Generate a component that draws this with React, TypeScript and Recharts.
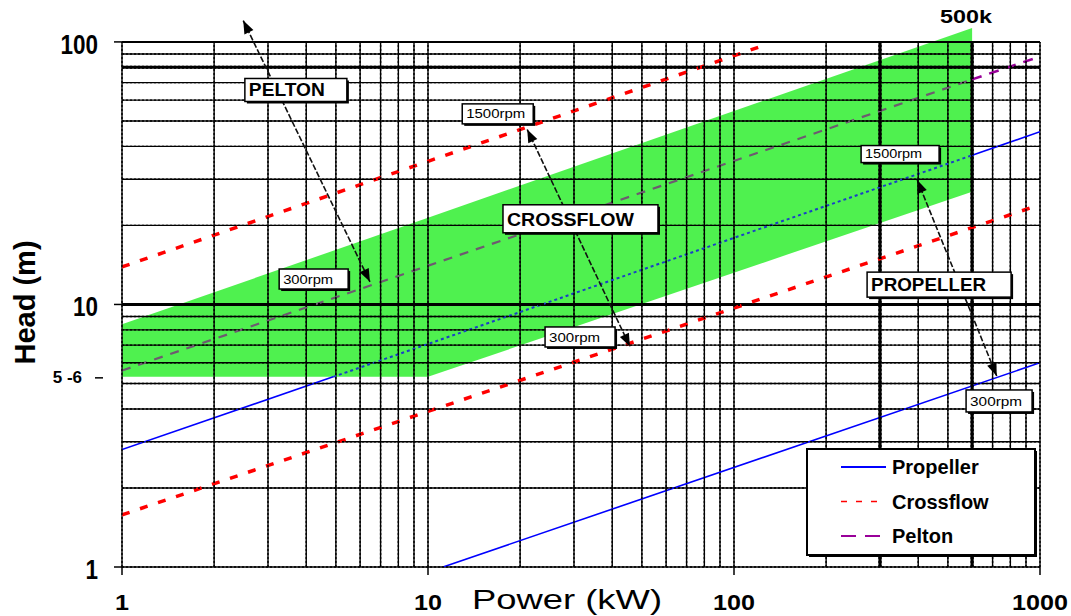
import React from "react";
import {
  ComposedChart,
  XAxis,
  YAxis,
  Line,
  Area,
  ReferenceLine,
  ReferenceDot,
  Legend,
} from "recharts";

const FONT = "'Liberation Sans', Arial, Helvetica, sans-serif";

// axis ticks and log grid
const powerTicks = [1, 10, 100, 1000];
const powerGrid = [
  1, 2, 3, 4, 5, 6, 7, 8, 9, 10, 20, 30, 40, 50, 60, 70, 80, 90, 100, 200, 300,
  400, 500, 600, 700, 800, 900, 1000,
];
const headTicks = [1, 5.3, 10, 100];
const headGrid = [
  1, 2, 3, 4, 5, 6, 7, 8, 9, 10, 20, 30, 40, 50, 60, 70, 80, 90, 100,
];
const thickPower = [300, 600];
const thickHead = [10, 80];

// turbine lines: power (kW) -> head (m)
const propeller300 = [
  { p: 11.2, h: 1 },
  { p: 1000, h: 6 },
];
const propeller1500Low = [
  { p: 1, h: 2.8 },
  { p: 4.9, h: 5.3 },
];
const propeller1500Mid = [
  { p: 4.9, h: 5.3 },
  { p: 600, h: 37 },
];
const propeller1500High = [
  { p: 600, h: 37 },
  { p: 1000, h: 45.5 },
];
const crossflow300 = [
  { p: 1, h: 1.58 },
  { p: 1000, h: 24 },
];
const crossflow1500 = [
  { p: 1, h: 13.9 },
  { p: 122, h: 96 },
];
const peltonInside = [
  { p: 1, h: 5.6 },
  { p: 600, h: 72 },
];
const peltonOutside = [
  { p: 600, h: 72 },
  { p: 1000, h: 88 },
];

// green band (head range for each power)
const bandPower = [1, 10, 600];
const bandLow = [5.3, 5.3, 26.9];
const bandHigh = [8.4, 21.4, 113];
const band = bandPower.map((p, i) => ({ p, h: [bandLow[i], bandHigh[i]] }));

// annotation boxes and arrows
const notes = [
  { text: "PELTON", p: 3.7, h: 65.6, w: 102, ht: 23, fs: 18, bold: true, len: 76 },
  { text: "1500rpm", p: 16.9, h: 53.2, w: 71, ht: 20, fs: 12, bold: false, len: 59 },
  { text: "CROSSFLOW", p: 31.5, h: 21.2, w: 155, ht: 28, fs: 19, bold: true, len: 127 },
  { text: "300rpm", p: 4.23, h: 12.5, w: 69, ht: 20, fs: 13, bold: false, len: 50 },
  { text: "300rpm", p: 31.4, h: 7.52, w: 70, ht: 20, fs: 13, bold: false, len: 51 },
  { text: "1500rpm", p: 349, h: 37.4, w: 78, ht: 17, fs: 12, bold: false, len: 57 },
  { text: "PROPELLER", p: 468, h: 11.9, w: 144, ht: 25, fs: 18, bold: true, len: 115 },
  { text: "300rpm", p: 735, h: 4.29, w: 66, ht: 22, fs: 13, bold: false, len: 52 },
];
const arrows = [
  { p1: 2.49, h1: 120.6, p2: 6.46, h2: 12.2 },
  { p1: 21.1, h1: 46.4, p2: 45.7, h2: 6.91 },
  { p1: 397, h1: 29.8, p2: 722, h2: 5.34 },
];

const legendItems = [
  { name: "Propeller", color: "#0000ff", dash: undefined, width: 2 },
  { name: "Crossflow", color: "#ff0000", dash: "6 9", width: 1.5 },
  { name: "Pelton", color: "#990099", dash: "15 9", width: 2 },
];

const headWidth = (v: number) => (thickHead.includes(v) ? 3 : v === 100 ? 2 : 1.4);
const powerWidth = (v: number) => (thickPower.includes(v) ? 3.2 : 1.4);

function arrowHead(x: number, y: number, fx: number, fy: number) {
  const a = Math.atan2(y - fy, x - fx);
  const len = 13;
  const half = 5;
  const bx = x - len * Math.cos(a);
  const by = y - len * Math.sin(a);
  const px = -Math.sin(a) * half;
  const py = Math.cos(a) * half;
  return `${x},${y} ${bx + px},${by + py} ${bx - px},${by - py}`;
}

const ArrowShape = (props: any) => {
  const { x1, y1, x2, y2 } = props;
  return (
    <g>
      <line x1={x1} y1={y1} x2={x2} y2={y2} stroke="#111" strokeWidth={1.6} strokeDasharray="6 2" />
      <polygon points={arrowHead(x1, y1, x2, y2)} fill="#000" />
      <polygon points={arrowHead(x2, y2, x1, y1)} fill="#000" />
    </g>
  );
};

// dotted copy of a grid line, drawn above the band
const dottedShape = (width: number) => (props: any) => (
  <line
    x1={props.x1}
    y1={props.y1}
    x2={props.x2}
    y2={props.y2}
    stroke="#000"
    strokeWidth={width}
    strokeDasharray="2 2"
  />
);

const NoteBox = ({ cx, cy, note }: any) => {
  const left = cx - note.w / 2;
  const top = cy - note.ht / 2;
  return (
    <g>
      <rect x={left + 2} y={top + 2} width={note.w} height={note.ht} fill="#000" />
      <rect x={left} y={top} width={note.w} height={note.ht} fill="#fff" stroke="#000" strokeWidth={1.5} />
      <text
        x={left + 4}
        y={cy}
        dy="0.36em"
        fontFamily={FONT}
        fontSize={note.fs}
        fontWeight={note.bold ? "bold" : "normal"}
        textLength={note.len}
        lengthAdjust="spacingAndGlyphs"
        fill="#000"
      >
        {note.text}
      </text>
    </g>
  );
};

const PowerTick = ({ x, y, payload }: any) => {
  const s = String(payload.value);
  return (
    <text
      x={x}
      y={y + 33}
      textAnchor="middle"
      fontFamily={FONT}
      fontSize={22}
      fontWeight="bold"
      textLength={s.length * 14}
      lengthAdjust="spacingAndGlyphs"
      fill="#000"
    >
      {s}
    </text>
  );
};

const HeadTick = ({ x, y, payload }: any) => {
  const v = payload.value;
  if (v === 5.3) {
    return (
      <g>
        <text x={x - 40} y={y + 6} textAnchor="end" fontFamily={FONT} fontSize={17} fontWeight="bold" fill="#000">
          5 -6
        </text>
        <line x1={x - 27} x2={x - 19} y1={y + 1} y2={y + 1} stroke="#000" strokeWidth={1.5} />
      </g>
    );
  }
  const s = String(v);
  return (
    <g>
      <line x1={x - 8} x2={x} y1={y} y2={y} stroke="#000" strokeWidth={1.5} />
      <text
        x={x - 24}
        y={y + 12}
        textAnchor="end"
        fontFamily={FONT}
        fontSize={28}
        fontWeight="bold"
        textLength={s.length * 12.5}
        lengthAdjust="spacingAndGlyphs"
        fill="#000"
      >
        {s}
      </text>
    </g>
  );
};

const renderLegend = () => (
  <svg width={234} height={112} style={{ display: "block" }}>
    <rect x={3} y={3} width={228} height={106} fill="#000" />
    <rect x={1} y={1} width={228} height={106} fill="#fff" stroke="#000" strokeWidth={2} />
    {legendItems.map((it, i) => {
      const cy = 19 + i * 34.5;
      return (
        <g key={it.name}>
          <line x1={35} x2={80} y1={cy} y2={cy} stroke={it.color} strokeWidth={it.width} strokeDasharray={it.dash} />
          <text x={86} y={cy + 7} fontFamily={FONT} fontSize={20} fontWeight="bold" fill="#000">
            {it.name}
          </text>
        </g>
      );
    })}
  </svg>
);

export default function App() {
  return (
    <div style={{ position: "absolute", left: 0, top: 0, background: "#fff" }}>
      <ComposedChart width={1071} height={616} margin={{ top: 12, right: 31, bottom: 9, left: 42 }}>
        <XAxis
          type="number"
          dataKey="p"
          scale="log"
          domain={[1, 1000]}
          allowDataOverflow
          ticks={powerTicks}
          axisLine={false}
          tickLine={{ stroke: "#000", strokeWidth: 1.5 }}
          tickSize={8}
          tickMargin={2}
          height={40}
          tick={<PowerTick />}
          label={{
            content: ({ viewBox }: any) => (
              <text
                x={viewBox.x + viewBox.width / 2 - 14}
                y={viewBox.y + 42}
                textAnchor="middle"
                fontFamily={FONT}
                fontSize={27}
                textLength={190}
                lengthAdjust="spacingAndGlyphs"
                fill="#000"
              >
                Power (kW)
              </text>
            ),
          }}
        />
        <YAxis
          type="number"
          dataKey="h"
          scale="log"
          domain={[1, 130]}
          allowDataOverflow
          ticks={headTicks}
          axisLine={false}
          tickLine={false}
          tickSize={0}
          tickMargin={0}
          width={80}
          tick={<HeadTick />}
          label={{
            content: ({ viewBox }: any) => {
              const lx = viewBox.x - 7;
              const ly = viewBox.y + viewBox.height / 2 + 13;
              return (
                <text
                  x={lx}
                  y={ly}
                  transform={`rotate(-90, ${lx}, ${ly})`}
                  textAnchor="middle"
                  fontFamily={FONT}
                  fontSize={29}
                  fontWeight="bold"
                  fill="#000"
                >
                  Head (m)
                </text>
              );
            },
          }}
        />

        {/* log grid */}
        {headGrid.map((v) => (
          <ReferenceLine
            key={`h${v}`}
            segment={[
              { x: 1, y: v },
              { x: 1000, y: v },
            ]}
            stroke="#000"
            strokeWidth={headWidth(v)}
          />
        ))}
        {powerGrid.map((v) => (
          <ReferenceLine
            key={`p${v}`}
            segment={[
              { x: v, y: 1 },
              { x: v, y: 100 },
            ]}
            stroke="#000"
            strokeWidth={powerWidth(v)}
          />
        ))}

        <Area
          data={band}
          dataKey="h"
          type="linear"
          stroke="none"
          fill="#3cf03c"
          fillOpacity={0.9}
          isAnimationActive={false}
          legendType="none"
        />

        <Line data={propeller300} dataKey="h" stroke="#0000ff" strokeWidth={1.6} dot={false} isAnimationActive={false} />
        <Line data={propeller1500Low} dataKey="h" stroke="#0000ff" strokeWidth={1.6} dot={false} isAnimationActive={false} />
        <Line data={propeller1500Mid} dataKey="h" stroke="#1a3fc8" strokeWidth={2} strokeDasharray="3 3" dot={false} isAnimationActive={false} />
        <Line data={propeller1500High} dataKey="h" stroke="#0000ff" strokeWidth={1.6} dot={false} isAnimationActive={false} />
        <Line data={crossflow300} dataKey="h" stroke="#ff0000" strokeWidth={3.5} strokeDasharray="8 11" dot={false} isAnimationActive={false} />
        <Line data={crossflow1500} dataKey="h" stroke="#ff0000" strokeWidth={3.5} strokeDasharray="8 11" dot={false} isAnimationActive={false} />
        <Line data={peltonInside} dataKey="h" stroke="#6e5a70" strokeWidth={2.2} strokeDasharray="9 8" dot={false} isAnimationActive={false} />
        <Line data={peltonOutside} dataKey="h" stroke="#990099" strokeWidth={2.6} strokeDasharray="10 8" dot={false} isAnimationActive={false} />

        {/* grid showing through the band as dotted lines */}
        {headGrid.map((v) => (
          <ReferenceLine
            key={`dh${v}`}
            segment={[
              { x: 1, y: v },
              { x: 1000, y: v },
            ]}
            ifOverflow="visible"
            shape={dottedShape(headWidth(v))}
          />
        ))}
        {powerGrid.map((v) => (
          <ReferenceLine
            key={`dp${v}`}
            segment={[
              { x: v, y: 1 },
              { x: v, y: 100 },
            ]}
            ifOverflow="visible"
            shape={dottedShape(powerWidth(v))}
          />
        ))}

        {arrows.map((a, i) => (
          <ReferenceLine
            key={`a${i}`}
            segment={[
              { x: a.p1, y: a.h1 },
              { x: a.p2, y: a.h2 },
            ]}
            ifOverflow="visible"
            shape={ArrowShape}
          />
        ))}

        {notes.map((n, i) => (
          <ReferenceDot
            key={`n${i}`}
            x={n.p}
            y={n.h}
            r={0}
            ifOverflow="visible"
            shape={(props: any) => <NoteBox {...props} note={n} />}
          />
        ))}

        <ReferenceDot
          x={573}
          y={125.6}
          r={0}
          ifOverflow="visible"
          shape={(props: any) => (
            <text
              x={props.cx}
              y={props.cy}
              dy="0.36em"
              textAnchor="middle"
              fontFamily={FONT}
              fontSize={19}
              fontWeight="bold"
              textLength={52}
              lengthAdjust="spacingAndGlyphs"
              fill="#000"
            >
              500k
            </text>
          )}
        />

        <Legend
          layout="vertical"
          align="center"
          verticalAlign="middle"
          content={renderLegend}
          wrapperStyle={{ position: "absolute", left: 806, top: 448, width: 234, height: 112 }}
        />
      </ComposedChart>
    </div>
  );
}
